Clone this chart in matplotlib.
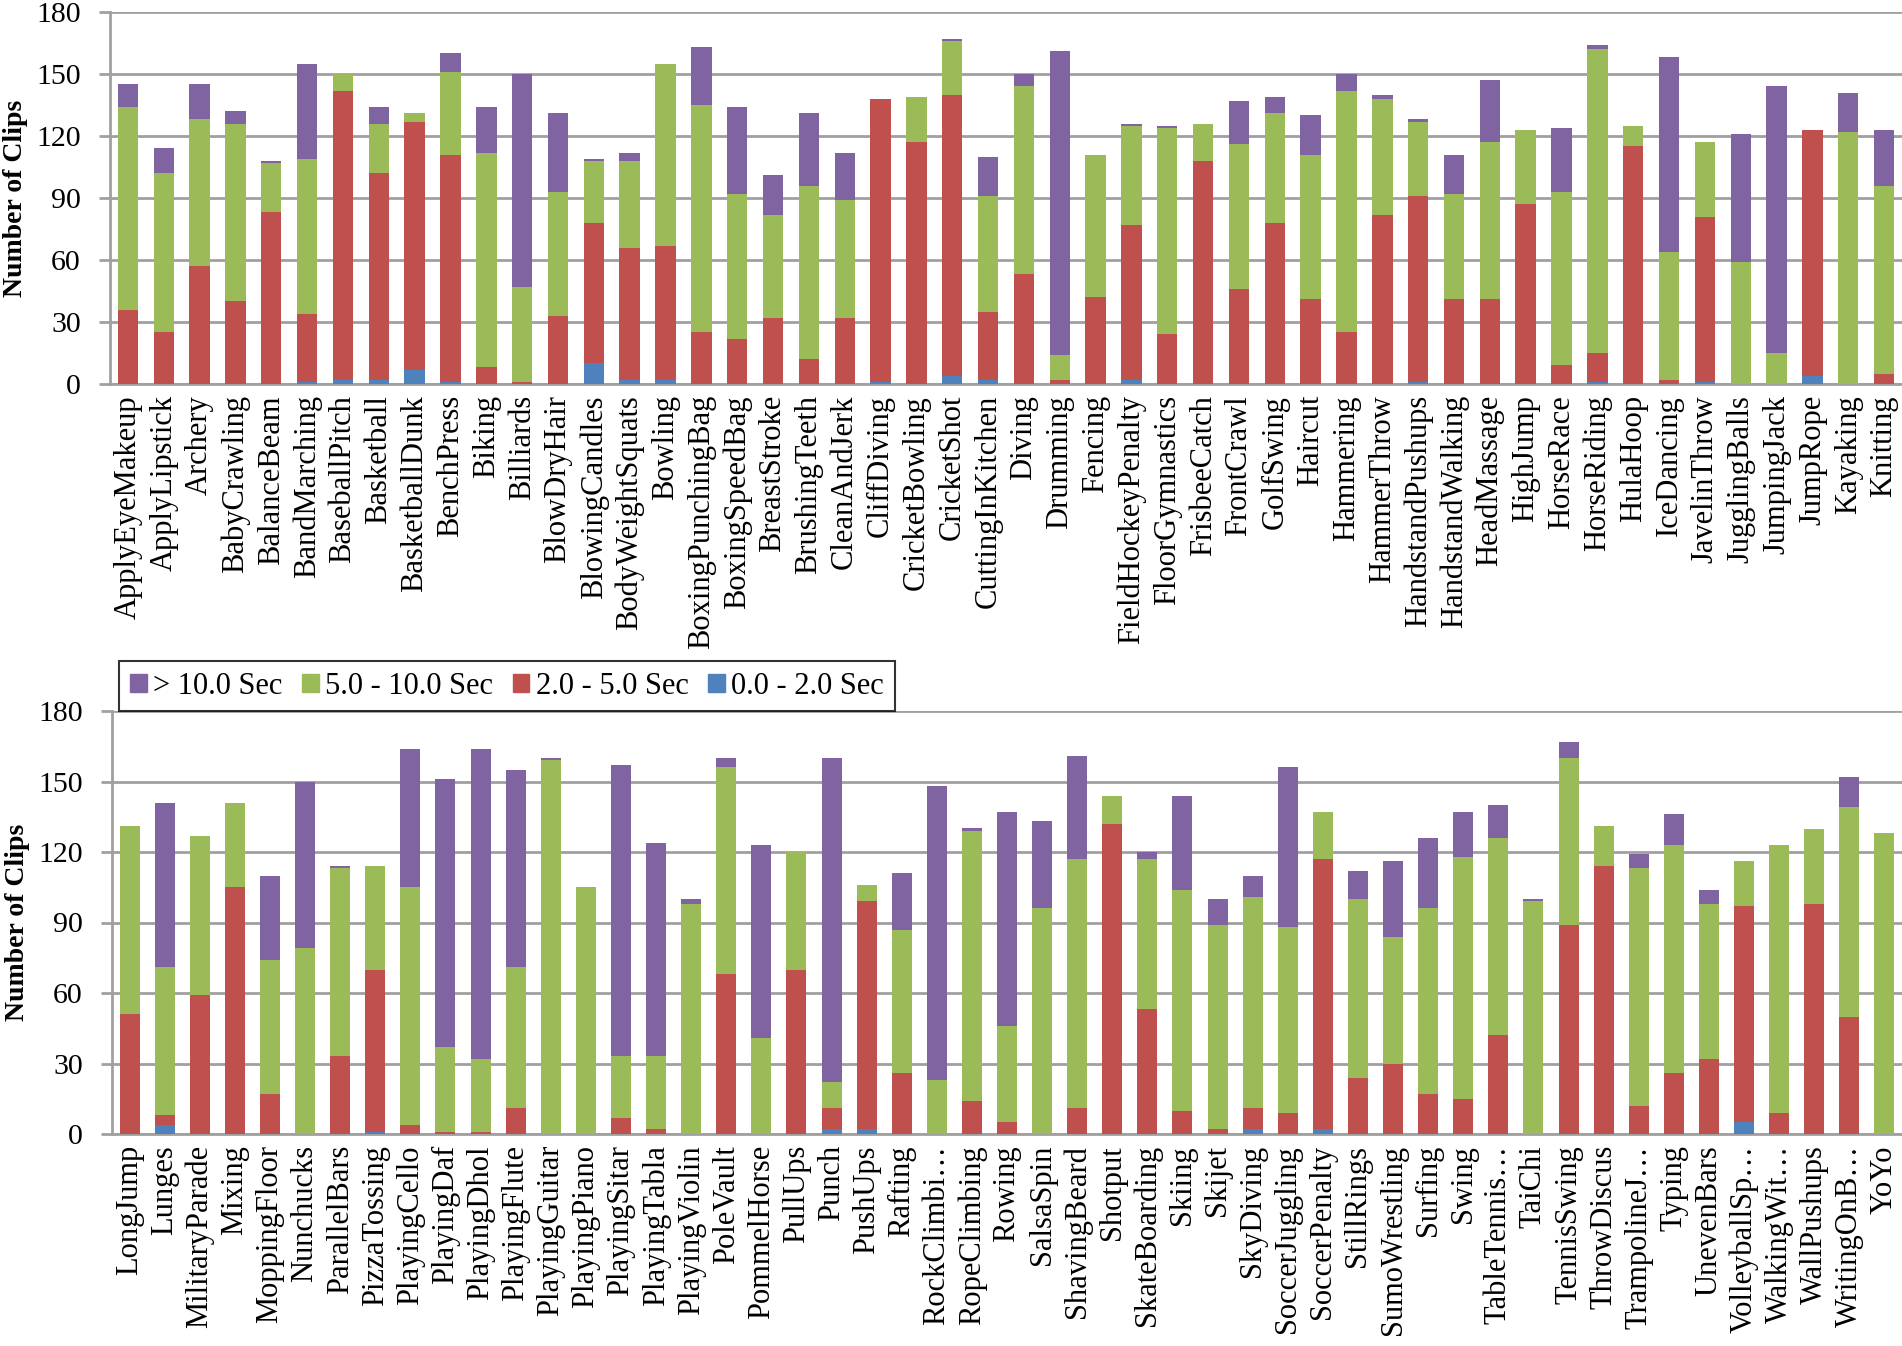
import numpy as np
import matplotlib
matplotlib.use('Agg')
from matplotlib import pyplot as plt
from matplotlib.patches import Patch

plt.rcParams['font.family'] = ['Liberation Serif', 'DejaVu Serif']

# top panel
names_top = ['ApplyEyeMakeup', 'ApplyLipstick', 'Archery', 'BabyCrawling', 'BalanceBeam',
             'BandMarching', 'BaseballPitch', 'Basketball', 'BasketballDunk', 'BenchPress',
             'Biking', 'Billiards', 'BlowDryHair', 'BlowingCandles', 'BodyWeightSquats',
             'Bowling', 'BoxingPunchingBag', 'BoxingSpeedBag', 'BreastStroke', 'BrushingTeeth',
             'CleanAndJerk', 'CliffDiving', 'CricketBowling', 'CricketShot', 'CuttingInKitchen',
             'Diving', 'Drumming', 'Fencing', 'FieldHockeyPenalty', 'FloorGymnastics',
             'FrisbeeCatch', 'FrontCrawl', 'GolfSwing', 'Haircut', 'Hammering',
             'HammerThrow', 'HandstandPushups', 'HandstandWalking', 'HeadMassage', 'HighJump',
             'HorseRace', 'HorseRiding', 'HulaHoop', 'IceDancing', 'JavelinThrow',
             'JugglingBalls', 'JumpingJack', 'JumpRope', 'Kayaking', 'Knitting']
blue_top = [0, 0, 0, 0, 0, 1, 2, 2, 7, 1, 0, 0, 0, 10, 2, 2, 0, 0, 0, 0,
            0, 1, 0, 4, 2, 0, 0, 0, 2, 0, 0, 0, 0, 0, 0, 0, 1, 0, 0, 0,
            0, 1, 0, 0, 1, 0, 0, 4, 0, 0]
red_top = [36, 25, 57, 40, 83, 33, 140, 100, 120, 110, 8, 1, 33, 68, 64, 65, 25, 22, 32, 12,
           32, 137, 117, 136, 33, 53, 2, 42, 75, 24, 108, 46, 78, 41, 25, 82, 90, 41, 41, 87,
           9, 14, 115, 2, 80, 0, 0, 119, 0, 5]
green_top = [98, 77, 71, 86, 24, 75, 8, 24, 4, 40, 104, 46, 60, 30, 42, 88, 110, 70, 50, 84,
             57, 0, 22, 26, 56, 91, 12, 69, 48, 100, 18, 70, 53, 70, 117, 56, 36, 51, 76, 36,
             84, 147, 10, 62, 36, 59, 15, 0, 122, 91]
purple_top = [11, 12, 17, 6, 1, 46, 0, 8, 0, 9, 22, 103, 38, 1, 4, 0, 28, 42, 19, 35,
              23, 0, 0, 1, 19, 6, 147, 0, 1, 1, 0, 21, 8, 19, 8, 2, 1, 19, 30, 0,
              31, 2, 0, 94, 0, 62, 129, 0, 19, 27]

# bottom panel
names_bot = ['LongJump', 'Lunges', 'MilitaryParade', 'Mixing', 'MoppingFloor',
             'Nunchucks', 'ParallelBars', 'PizzaTossing', 'PlayingCello', 'PlayingDaf',
             'PlayingDhol', 'PlayingFlute', 'PlayingGuitar', 'PlayingPiano', 'PlayingSitar',
             'PlayingTabla', 'PlayingViolin', 'PoleVault', 'PommelHorse', 'PullUps',
             'Punch', 'PushUps', 'Rafting', 'RockClimbi\u2026', 'RopeClimbing',
             'Rowing', 'SalsaSpin', 'ShavingBeard', 'Shotput', 'SkateBoarding',
             'Skiing', 'Skijet', 'SkyDiving', 'SoccerJuggling', 'SoccerPenalty',
             'StillRings', 'SumoWrestling', 'Surfing', 'Swing', 'TableTennis\u2026',
             'TaiChi', 'TennisSwing', 'ThrowDiscus', 'TrampolineJ\u2026', 'Typing',
             'UnevenBars', 'VolleyballSp\u2026', 'WalkingWit\u2026', 'WallPushups', 'WritingOnB\u2026',
             'YoYo']
blue_bot = [0, 4, 0, 0, 0, 0, 0, 1, 0, 0, 0, 0, 0, 0, 0, 0, 0, 0, 0, 0,
            2, 2, 0, 0, 0, 0, 0, 0, 0, 0, 0, 0, 2, 0, 2, 0, 0, 0, 0, 0,
            0, 0, 0, 0, 0, 0, 5, 0, 0, 0, 0]
red_bot = [51, 4, 59, 105, 17, 0, 33, 69, 4, 1, 1, 11, 0, 0, 7, 2, 0, 68, 0, 70,
           9, 97, 26, 0, 14, 5, 0, 11, 132, 53, 10, 2, 9, 9, 115, 24, 30, 17, 15, 42,
           0, 89, 114, 12, 26, 32, 92, 9, 98, 50, 0]
green_bot = [80, 63, 68, 36, 57, 79, 80, 44, 101, 36, 31, 60, 159, 105, 26, 31, 98, 88, 41, 50,
             11, 7, 61, 23, 115, 41, 96, 106, 12, 64, 94, 87, 90, 79, 20, 76, 54, 79, 103, 84,
             99, 71, 17, 101, 97, 66, 19, 114, 32, 89, 128]
purple_bot = [0, 70, 0, 0, 36, 71, 1, 0, 59, 114, 132, 84, 1, 0, 124, 91, 2, 4, 82, 0,
              138, 0, 24, 125, 1, 91, 37, 44, 0, 3, 40, 11, 9, 68, 0, 12, 32, 30, 19, 14,
              1, 7, 0, 6, 13, 6, 0, 0, 0, 13, 0]

labels = ['> 10.0 Sec', '5.0 - 10.0 Sec', '2.0 - 5.0 Sec', '0.0 - 2.0 Sec']
colors = ['#8064A2', '#9BBB59', '#C0504D', '#4F81BD']
grid_c = '#A0A0A0'


def draw(ax, names, blue, red, green, purple):
    x = np.arange(len(names))
    w = 0.57
    bottom = np.zeros(len(names))
    for vals, c in zip([blue, red, green, purple], colors[::-1]):
        ax.bar(x, vals, w, bottom=bottom, color=c, zorder=3)
        bottom += np.array(vals)
    ax.set_xlim(-0.5, len(names) - 0.5)
    ax.set_ylim(0, 180)
    ax.set_yticks(range(0, 181, 30))
    ax.yaxis.grid(True, color=grid_c, lw=2)
    ax.set_axisbelow(True)
    ax.set_xticks(x)
    ax.set_xticklabels(names, rotation=90, fontsize=22)
    ax.tick_params(axis='x', length=0, pad=8)
    ax.tick_params(axis='y', labelsize=21.5, color=grid_c, width=2, length=8, pad=13)
    for s in ['top', 'right']:
        ax.spines[s].set_visible(False)
    for s in ['left', 'bottom']:
        ax.spines[s].set_color(grid_c)
        ax.spines[s].set_linewidth(2)
    ax.set_ylabel('Number of Clips', fontsize=20, fontweight='bold', labelpad=6)


fig = plt.figure(figsize=(19.02, 13.46), dpi=100)
ax1 = fig.add_axes([110 / 1902, 1 - 384 / 1346, 1 - 110 / 1902, 372 / 1346])
ax2 = fig.add_axes([112 / 1902, 1 - 1134 / 1346, 1 - 112 / 1902, 423 / 1346])
draw(ax1, names_top, blue_top, red_top, green_top, purple_top)
draw(ax2, names_bot, blue_bot, red_bot, green_bot, purple_bot)

handles = [Patch(color=c, label=l) for c, l in zip(colors, labels)]
leg = fig.legend(handles=handles, loc='upper left', bbox_to_anchor=(119 / 1902, 1 - 661 / 1346),
                 ncol=4, fontsize=22, frameon=True, fancybox=False, handlelength=0.55,
                 handleheight=0.55, handletextpad=0.2, columnspacing=0.65, borderpad=0.35,
                 borderaxespad=0)
leg.get_frame().set_edgecolor('black')
leg.get_frame().set_linewidth(1.5)

plt.savefig('out.png', dpi=100)
